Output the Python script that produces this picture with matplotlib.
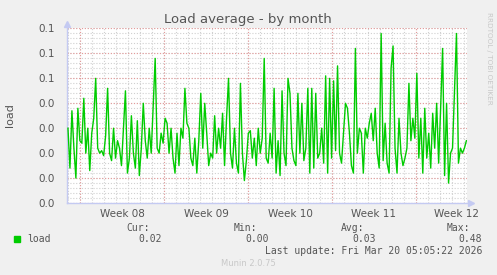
import numpy as np
import matplotlib
matplotlib.use("Agg")
import matplotlib.pyplot as plt

# load samples, in thousandths (oldest -> newest)
load_milli = [
    30, 14, 37, 22, 10, 38, 25, 24, 42, 20, 30, 13, 28, 34, 50, 22, 20, 21, 19, 27, 46, 20, 17, 30, 18, 25,
    22, 15, 30, 45, 12, 18, 35, 20, 14, 33, 11, 22, 40, 25, 18, 30, 20, 39, 58, 22, 20, 28, 24, 34, 32, 20,
    30, 18, 12, 28, 15, 30, 26, 46, 32, 30, 18, 15, 26, 12, 25, 44, 22, 40, 28, 15, 20, 18, 35, 20, 30,
    22, 36, 15, 34, 50, 20, 14, 30, 16, 12, 48, 20, 9, 17, 28, 29, 18, 26, 15, 30, 20, 26, 58, 18, 16,
    28, 18, 46, 12, 25, 11, 45, 20, 15, 50, 44, 22, 17, 15, 44, 20, 40, 17, 22, 46, 12, 46, 14, 44, 18,
    20, 30, 16, 51, 12, 50, 18, 49, 21, 55, 20, 16, 28, 40, 38, 28, 15, 12, 62, 20, 30, 28, 12, 30, 26,
    32, 36, 25, 38, 20, 14, 68, 17, 32, 16, 12, 54, 63, 22, 12, 34, 20, 15, 18, 22, 48, 25, 34, 26,
    52, 18, 34, 12, 38, 18, 28, 14, 36, 22, 40, 16, 38, 62, 11, 40, 8, 20, 22, 45, 68, 16, 22, 20, 22, 25,
]
load = np.array(load_milli) / 1000.0

# time in days since Mon Feb 16 00:00 (start of week 08)
t_first = -1.0
t_last = 32.2
days = np.linspace(t_first, t_last, len(load))

x_min, x_max = -1.08, 32.25
week_starts = [0, 7, 14, 21, 28]
week_centres = [3.5, 10.5, 17.5, 24.5, 31.4]
week_labels = ['Week 08', 'Week 09', 'Week 10', 'Week 11', 'Week 12']
y_ticks = [0.00, 0.01, 0.02, 0.03, 0.04, 0.05, 0.06, 0.07]

stat_names = ['Cur:', 'Min:', 'Avg:', 'Max:']
stat_values = ['0.02', '0.00', '0.03', '0.48']
stat_right = [150, 257, 364, 470]

text_col = '#555555'
bg = '#F0F0F0'
W, H = 497, 275

fig = plt.figure(figsize=(W / 100, H / 100), dpi=100, facecolor=bg)
ax = fig.add_axes([67 / W, 72 / H, 400 / W, 175 / H])
ax.set_facecolor('white')
ax.set_xlim(x_min, x_max)
ax.set_ylim(0, 0.0702)

# grid: minor gray dots, major red dots
dots = (0, (1, 1.6))
ax.vlines(np.arange(-1, 33), 0, 0.0702, color='#D0D0D0', lw=0.8, linestyles=dots, zorder=0)
ax.hlines(np.arange(0, 0.0701, 0.002), x_min, x_max, color='#D0D0D0', lw=0.8, linestyles=dots, zorder=0)
ax.vlines(week_starts, 0, 0.0702, color='#E59A9A', lw=0.8, linestyles=dots, zorder=1)
ax.hlines(y_ticks, x_min, x_max, color='#E59A9A', lw=0.8, linestyles=dots, zorder=1)

ax.plot(days, load, color='#00CC00', lw=1.0, zorder=3)

ax.set_yticks(y_ticks)
ax.set_yticklabels(['%.1f' % v for v in y_ticks])
ax.set_xticks(week_centres)
ax.set_xticklabels(week_labels)
ax.tick_params(length=0, labelsize=7.5, colors=text_col, pad=4)
ax.tick_params(axis='y', pad=9)

for s in ['top', 'right']:
    ax.spines[s].set_visible(False)
for s in ['left', 'bottom']:
    ax.spines[s].set_color('#C4CAF2')
    ax.spines[s].set_linewidth(1.0)
ax.plot(0, 1.025, marker='^', ms=4, color='#C4CAF2', transform=ax.transAxes, clip_on=False)
ax.plot(1.01, 0, marker='>', ms=4, color='#C4CAF2', transform=ax.transAxes, clip_on=False)

fig.text(248 / W, 1 - 19 / H, 'Load average - by month', ha='center', va='center',
         fontsize=9.5, color=text_col)
fig.text(10 / W, 1 - 115 / H, 'load', rotation=90, ha='center', va='center',
         fontsize=8, color=text_col)
fig.text(489 / W, 1 - 58 / H, 'RRDTOOL / TOBI OETIKER', rotation=270, ha='center', va='center',
         fontsize=5.2, color='#C8C8C8')

# legend and stats
mono = 'DejaVu Sans Mono'
fig.patches.append(plt.Rectangle((14 / W, 1 - 242 / H), 6 / W, 6 / H, transform=fig.transFigure,
                                 color='#00CC00', figure=fig))
fig.text(27 / W, 1 - 239 / H, 'load', family=mono, fontsize=7, color=text_col, va='center')
for name, val, xr in zip(stat_names, stat_values, stat_right):
    fig.text(xr / W, 1 - 228 / H, name, family=mono, fontsize=7, color=text_col, ha='right', va='center')
    fig.text((xr + 12) / W, 1 - 239 / H, val, family=mono, fontsize=7, color=text_col, ha='right', va='center')
fig.text(482 / W, 1 - 251 / H, 'Last update: Fri Mar 20 05:05:22 2026', family=mono, fontsize=7,
         color=text_col, ha='right', va='center')
fig.text(248 / W, 1 - 264 / H, 'Munin 2.0.75', fontsize=6, color='#C8C8C8', ha='center', va='center')

fig.savefig('out.png', dpi=100, facecolor=bg)
